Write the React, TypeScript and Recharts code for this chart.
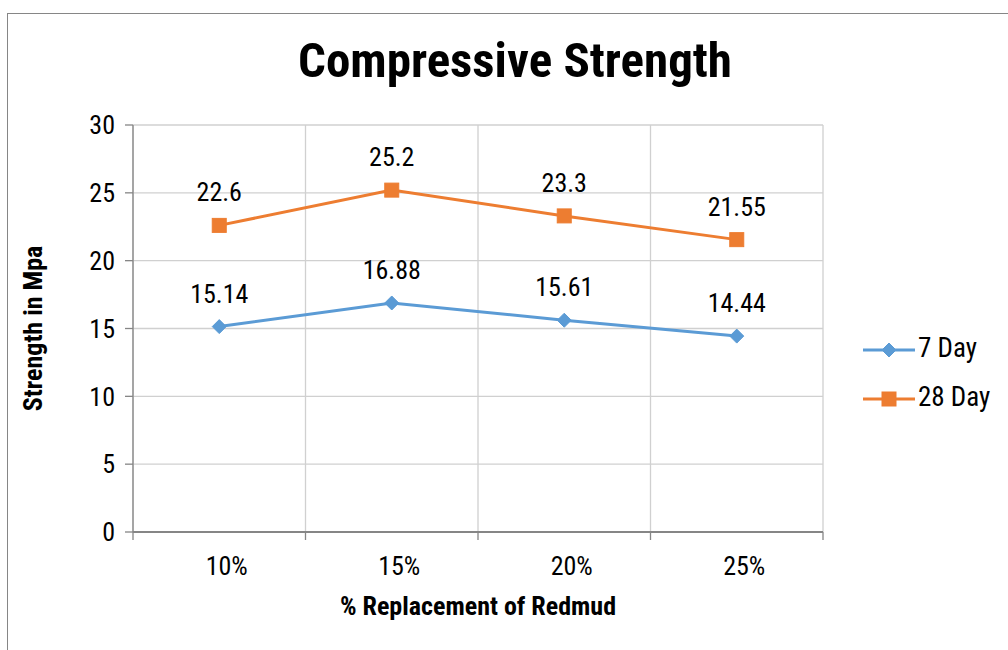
import React from 'react';
import { LineChart, Line, XAxis, YAxis, CartesianGrid, Legend, LabelList } from 'recharts';

const categories = ['10%', '15%', '20%', '25%'];
const day7 = [15.14, 16.88, 15.61, 14.44];
const day28 = [22.6, 25.2, 23.3, 21.55];
const yTicks = [0, 5, 10, 15, 20, 25, 30];

const data = categories.map((c, i) => ({ x: i + 0.5, name: c, d7: day7[i], d28: day28[i] }));

const FONT = '"Liberation Sans Narrow", "Arial Narrow", "Roboto Condensed", "DejaVu Sans Condensed", sans-serif';
const BLUE = '#5B9BD5';
const ORANGE = '#ED7D31';
const AXIS = '#868686';
const GRID = '#d0d0d0';
const W = 1000;
const H = 636;
const M = { top: 111, right: 185, bottom: 48, left: 65 };
const PLOT_W = W - M.left - M.right;

const XTick = (props: any) => {
  const { x, y, payload } = props;
  const label = categories[payload.value];
  if (!label) return null;
  return (
    <text x={x + PLOT_W / 8} y={y + 26} textAnchor="middle" dominantBaseline="middle" fontSize={26} fill="#000" fontFamily={FONT}>
      {label}
    </text>
  );
};

const Diamond = (props: any) => {
  const { cx, cy } = props;
  return <path d={`M${cx},${cy - 7}L${cx + 7},${cy}L${cx},${cy + 7}L${cx - 7},${cy}Z`} fill={BLUE} stroke={BLUE} />;
};

const Square = (props: any) => {
  const { cx, cy } = props;
  return <rect x={cx - 7} y={cy - 7} width={14} height={14} fill={ORANGE} stroke={ORANGE} />;
};

const LegendBox = () => (
  <svg width={150} height={80} style={{ overflow: 'visible' }}>
    <line x1={0} y1={6} x2={52} y2={6} stroke={BLUE} strokeWidth={3} />
    <Diamond cx={26} cy={6} />
    <text x={55} y={6} dominantBaseline="middle" fontSize={27} fontFamily={FONT}>7 Day</text>
    <line x1={0} y1={55} x2={52} y2={55} stroke={ORANGE} strokeWidth={3} />
    <Square cx={26} cy={55} />
    <text x={55} y={55} dominantBaseline="middle" fontSize={27} fontFamily={FONT}>28 Day</text>
  </svg>
);

export default function App() {
  return (
    <div
      style={{
        position: 'absolute',
        left: 7,
        top: 13,
        width: 1010,
        height: 640,
        border: `1px solid ${AXIS}`,
        boxSizing: 'border-box',
        background: '#fff',
        fontFamily: FONT,
      }}
    >
      <div
        style={{
          position: 'absolute',
          left: 0,
          width: 1014,
          top: 18,
          textAlign: 'center',
          fontSize: 49,
          fontWeight: 'bold',
          fontFamily: FONT,
        }}
      >
        Compressive Strength
      </div>
      <LineChart width={W} height={H} data={data} margin={M}>
        <CartesianGrid stroke={GRID} strokeWidth={1.3} xAxisId="x" />
        <XAxis
          xAxisId="x"
          dataKey="x"
          type="number"
          domain={[0, 4]}
          ticks={[0, 1, 2, 3, 4]}
          interval={0}
          height={70}
          tick={<XTick />}
          tickSize={8}
          tickLine={{ stroke: AXIS, strokeWidth: 1.3 }}
          axisLine={{ stroke: AXIS, strokeWidth: 2 }}
          label={{ value: '% Replacement of Redmud', position: 'insideTop', offset: 65, fontSize: 26, fontWeight: 'bold', fill: '#000', fontFamily: FONT }}
        />
        <YAxis
          domain={[0, 30]}
          ticks={yTicks}
          width={60}
          tickSize={8}
          tickMargin={10}
          tick={{ fontSize: 26, fill: '#000', fontFamily: FONT }}
          tickLine={{ stroke: AXIS, strokeWidth: 1.3 }}
          axisLine={{ stroke: AXIS, strokeWidth: 1.3 }}
          label={(p: any) => {
            const vb = p.viewBox;
            const cx = vb.x - 38;
            const cy = vb.y + vb.height / 2;
            return (
              <text x={cx} y={cy} transform={`rotate(-90 ${cx} ${cy})`} textAnchor="middle" dominantBaseline="middle" fontSize={26} fontWeight="bold" fontFamily={FONT}>
                Strength in Mpa
              </text>
            );
          }}
        />
        <Legend
          verticalAlign="middle"
          align="center"
          layout="horizontal"
          content={<LegendBox />}
          wrapperStyle={{ left: 855, top: 330, width: 150 }}
        />
        <Line
          xAxisId="x"
          dataKey="d7"
          name="7 Day"
          stroke={BLUE}
          strokeWidth={3}
          dot={<Diamond />}
          isAnimationActive={false}
        >
          <LabelList dataKey="d7" position="top" offset={24} fontSize={26} fill="#000" fontFamily={FONT} />
        </Line>
        <Line
          xAxisId="x"
          dataKey="d28"
          name="28 Day"
          stroke={ORANGE}
          strokeWidth={3}
          dot={<Square />}
          isAnimationActive={false}
        >
          <LabelList dataKey="d28" position="top" offset={24} fontSize={26} fill="#000" fontFamily={FONT} />
        </Line>
      </LineChart>
    </div>
  );
}
